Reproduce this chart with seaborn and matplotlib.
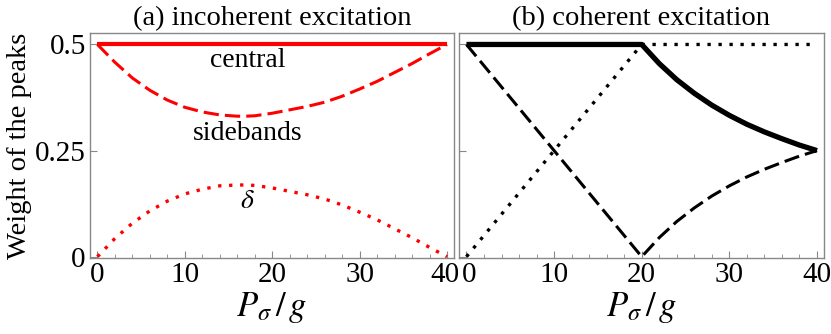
import numpy as np
import pandas as pd
import matplotlib
matplotlib.use("Agg")
import matplotlib.pyplot as plt
import matplotlib.transforms as mtransforms
from matplotlib.ticker import MultipleLocator, FixedLocator
import seaborn as sns

# ---------------- data ----------------
# (a) incoherent excitation
x_inc = [0, 2, 4, 6, 8, 10, 12, 14, 16, 17, 18, 20, 22, 24, 26, 28, 30, 32, 34, 36, 38, 40]
central_inc = [0.5] * len(x_inc)
sidebands_inc = [0.5, 0.458, 0.421, 0.392, 0.369, 0.352, 0.341, 0.334, 0.331, 0.331, 0.332,
                 0.338, 0.346, 0.354, 0.364, 0.378, 0.395, 0.413, 0.434, 0.455, 0.478, 0.5]
delta_inc = [0.0, 0.043, 0.079, 0.108, 0.131, 0.148, 0.159, 0.167, 0.169, 0.169, 0.168,
             0.162, 0.154, 0.146, 0.136, 0.122, 0.105, 0.087, 0.066, 0.045, 0.022, 0.0]

# (b) coherent excitation
x_coh = [0, 20, 22, 24, 26, 28, 30, 32, 34, 36, 38, 40]
central_coh = [0.5, 0.5, 0.455, 0.417, 0.385, 0.357, 0.333, 0.312, 0.294, 0.278, 0.263, 0.25]
sidebands_coh = [0.5, 0.0, 0.045, 0.083, 0.115, 0.143, 0.167, 0.188, 0.206, 0.222, 0.237, 0.25]
delta_coh = [0.0, 0.5, 0.5, 0.5, 0.5, 0.5, 0.5, 0.5, 0.5, 0.5, 0.5, 0.5]

titles = ["(a) incoherent excitation", "(b) coherent excitation"]
ylabel = "Weight of the peaks"
xlabel = r"$P_\sigma\,/\,g$"
xticks = [0, 10, 20, 30, 40]
yticks = [0, 0.25, 0.5]
yticklabels = ["0", "0.25", "0.5"]
annotations = [("central", 17.2, 0.462), ("sidebands", 17.2, 0.291), (r"$\delta$", 17.2, 0.129)]

# ---------------- style ----------------
sns.set_style("white")
plt.rcParams["font.family"] = ["Liberation Serif", "DejaVu Serif"]
plt.rcParams["mathtext.fontset"] = "stix"
plt.rcParams["text.color"] = "black"
plt.rcParams["axes.labelcolor"] = "black"
plt.rcParams["xtick.color"] = "black"
plt.rcParams["ytick.color"] = "black"

fig = plt.figure(figsize=(8.31, 3.34), dpi=100)
ax1 = fig.add_axes([90 / 831, 1 - 258 / 334, (454 - 90) / 831, (258 - 33) / 334])
ax2 = fig.add_axes([459 / 831, 1 - 258 / 334, (824 - 459) / 831, (258 - 33) / 334])

FS_T = 20.5
FS_TICK = 21
FS_ANN = 20
dash = (0, (5, 2))
dot = (0, (1, 2.3))

def draw(ax, x, c, s, d, color, lw_c):
    df = pd.DataFrame({"x": x, "central": c, "sidebands": s, "delta": d})
    sns.lineplot(data=df, x="x", y="central", ax=ax, color=color, lw=lw_c,
                 solid_capstyle="butt", sort=False)
    sns.lineplot(data=df, x="x", y="sidebands", ax=ax, color=color, lw=2.2,
                 linestyle=dash, sort=False)
    sns.lineplot(data=df, x="x", y="delta", ax=ax, color=color, lw=2.4,
                 linestyle=dot, sort=False)

draw(ax1, x_inc, central_inc, sidebands_inc, delta_inc, "#ff0000", 3.0)
draw(ax2, x_coh, central_coh, sidebands_coh, delta_coh, "black", 3.8)

for i, (ax, t) in enumerate(zip([ax1, ax2], titles)):
    ax.set_xlim(-0.85, 40.8)
    ax.set_ylim(-0.003, 0.527)
    ax.xaxis.set_major_locator(FixedLocator(xticks))
    ax.xaxis.set_minor_locator(MultipleLocator(2))
    ax.yaxis.set_major_locator(FixedLocator(yticks))
    ax.tick_params(axis="both", which="major", direction="in", length=5, width=0.8,
                   color="#888888", labelcolor="black", labelsize=FS_TICK, pad=3,
                   top=False, right=False, bottom=True, left=True)
    ax.tick_params(axis="x", which="minor", direction="in", length=3, width=0.6,
                   color="#888888", bottom=True, top=False)
    for sp in ax.spines.values():
        sp.set_color("#888888")
        sp.set_linewidth(1.0)
    ax.set_title(t, fontsize=FS_T, pad=6, color="black")
    ax.set_xlabel(xlabel, fontsize=25, labelpad=1, color="black")
    ax.set_ylabel("")
    if i == 0:
        ax.set_yticklabels(yticklabels)
        ax.set_ylabel(ylabel, fontsize=FS_T, labelpad=2, color="black")
    else:
        ax.set_yticklabels([])

# nudge the adjacent "40" | "0" tick labels apart slightly
fig.canvas.draw()
lab40 = ax1.get_xticklabels()[-1]
lab40.set_transform(lab40.get_transform() + mtransforms.ScaledTranslation(-2 / 100, 0, fig.dpi_scale_trans))
lab0 = ax2.get_xticklabels()[0]
lab0.set_transform(lab0.get_transform() + mtransforms.ScaledTranslation(3 / 100, 0, fig.dpi_scale_trans))

for txt, x, y in annotations:
    ax1.text(x, y, txt, fontsize=FS_ANN, ha="center", va="center", color="black")

fig.savefig("out.png", dpi=100)
